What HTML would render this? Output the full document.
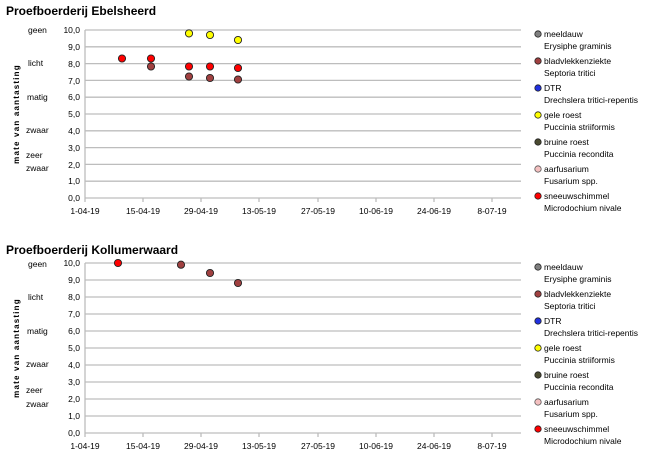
<!DOCTYPE html>
<html><head><style>body{margin:0;background:#fff}svg{display:block}text{font-family:"Liberation Sans",sans-serif}</style></head><body>
<svg width="664" height="464" xmlns="http://www.w3.org/2000/svg">
<defs>
<g id="leg" font-size="8.5" fill="#000">
<circle cx="538" cy="0" r="3.2" fill="#7f7f7f" stroke="#222" stroke-width="0.8"/><text x="544" y="3">meeldauw</text><text x="544" y="15">Erysiphe graminis</text>
<circle cx="538" cy="27" r="3.2" fill="#a04040" stroke="#222" stroke-width="0.8"/><text x="544" y="30">bladvlekkenziekte</text><text x="544" y="42">Septoria tritici</text>
<circle cx="538" cy="54" r="3.2" fill="#2030e0" stroke="#222" stroke-width="0.8"/><text x="544" y="57">DTR</text><text x="544" y="69">Drechslera tritici-repentis</text>
<circle cx="538" cy="81" r="3.2" fill="#ffff00" stroke="#222" stroke-width="0.8"/><text x="544" y="84">gele roest</text><text x="544" y="96">Puccinia striiformis</text>
<circle cx="538" cy="108" r="3.2" fill="#4a4a30" stroke="#222" stroke-width="0.8"/><text x="544" y="111">bruine roest</text><text x="544" y="123">Puccinia recondita</text>
<circle cx="538" cy="135" r="3.2" fill="#f4c0c0" stroke="#555" stroke-width="0.8"/><text x="544" y="138">aarfusarium</text><text x="544" y="150">Fusarium spp.</text>
<circle cx="538" cy="162" r="3.2" fill="#ff0000" stroke="#222" stroke-width="0.8"/><text x="544" y="165">sneeuwschimmel</text><text x="544" y="177">Microdochium nivale</text>
</g>
</defs>
<text x="6" y="15" font-size="12" font-weight="bold">Proefboerderij Ebelsheerd</text>
<text x="6" y="254" font-size="12" font-weight="bold">Proefboerderij Kollumerwaard</text>
<!-- chart 1 -->
<g stroke="#bdbdbd" stroke-width="1.3">
<line x1="85" x2="521" y1="30" y2="30"/><line x1="85" x2="521" y1="46.8" y2="46.8"/><line x1="85" x2="521" y1="63.6" y2="63.6"/><line x1="85" x2="521" y1="80.4" y2="80.4"/><line x1="85" x2="521" y1="97.2" y2="97.2"/><line x1="85" x2="521" y1="114" y2="114"/><line x1="85" x2="521" y1="130.8" y2="130.8"/><line x1="85" x2="521" y1="147.6" y2="147.6"/><line x1="85" x2="521" y1="164.4" y2="164.4"/><line x1="85" x2="521" y1="181.2" y2="181.2"/><line x1="85" x2="521" y1="198" y2="198"/>
<line x1="85" x2="85" y1="30" y2="198"/>
<line x1="85" x2="85" y1="198" y2="202"/><line x1="143" x2="143" y1="198" y2="202"/><line x1="201" x2="201" y1="198" y2="202"/><line x1="259" x2="259" y1="198" y2="202"/><line x1="318" x2="318" y1="198" y2="202"/><line x1="376" x2="376" y1="198" y2="202"/><line x1="434" x2="434" y1="198" y2="202"/><line x1="492" x2="492" y1="198" y2="202"/>
</g>
<g font-size="8.5" text-anchor="end">
<text x="80" y="33">10,0</text><text x="80" y="50">9,0</text><text x="80" y="67">8,0</text><text x="80" y="84">7,0</text><text x="80" y="100">6,0</text><text x="80" y="117">5,0</text><text x="80" y="134">4,0</text><text x="80" y="151">3,0</text><text x="80" y="168">2,0</text><text x="80" y="184">1,0</text><text x="80" y="201">0,0</text>
</g>
<g font-size="8.5" text-anchor="middle">
<text x="85" y="214">1-04-19</text><text x="143" y="214">15-04-19</text><text x="201" y="214">29-04-19</text><text x="259" y="214">13-05-19</text><text x="318" y="214">27-05-19</text><text x="376" y="214">10-06-19</text><text x="434" y="214">24-06-19</text><text x="492" y="214">8-07-19</text>
</g>
<g font-size="8.5">
<text x="28" y="33">geen</text><text x="28" y="66">licht</text><text x="27" y="100">matig</text><text x="26" y="133">zwaar</text><text x="26" y="158">zeer</text><text x="26" y="171">zwaar</text>
</g>
<text transform="translate(19,114) rotate(-90)" font-size="8" font-weight="bold" text-anchor="middle" letter-spacing="1.2">mate van aantasting</text>
<g stroke="#222" stroke-width="0.9">
<circle cx="122" cy="58.5" r="3.6" fill="#ff0000"/>
<circle cx="151" cy="66.5" r="3.6" fill="#a04040"/><circle cx="151" cy="58.5" r="3.6" fill="#ff0000"/>
<circle cx="189" cy="33.4" r="3.6" fill="#ffff00"/><circle cx="189" cy="66.5" r="3.6" fill="#ff0000"/><circle cx="189" cy="76.5" r="3.6" fill="#a04040"/>
<circle cx="210" cy="35" r="3.6" fill="#ffff00"/><circle cx="210" cy="66.5" r="3.6" fill="#ff0000"/><circle cx="210" cy="78" r="3.6" fill="#a04040"/>
<circle cx="238" cy="40" r="3.6" fill="#ffff00"/><circle cx="238" cy="68" r="3.6" fill="#ff0000"/><circle cx="238" cy="79.5" r="3.6" fill="#a04040"/>
</g>
<use href="#leg" transform="translate(0,34)"/>
<!-- chart 2 -->
<g stroke="#bdbdbd" stroke-width="1.3">
<line x1="85" x2="521" y1="263" y2="263"/><line x1="85" x2="521" y1="280" y2="280"/><line x1="85" x2="521" y1="297" y2="297"/><line x1="85" x2="521" y1="314" y2="314"/><line x1="85" x2="521" y1="331" y2="331"/><line x1="85" x2="521" y1="348" y2="348"/><line x1="85" x2="521" y1="365" y2="365"/><line x1="85" x2="521" y1="382" y2="382"/><line x1="85" x2="521" y1="399" y2="399"/><line x1="85" x2="521" y1="416" y2="416"/><line x1="85" x2="521" y1="433" y2="433"/>
<line x1="85" x2="85" y1="263" y2="433"/>
<line x1="85" x2="85" y1="433" y2="437"/><line x1="143" x2="143" y1="433" y2="437"/><line x1="201" x2="201" y1="433" y2="437"/><line x1="259" x2="259" y1="433" y2="437"/><line x1="318" x2="318" y1="433" y2="437"/><line x1="376" x2="376" y1="433" y2="437"/><line x1="434" x2="434" y1="433" y2="437"/><line x1="492" x2="492" y1="433" y2="437"/>
</g>
<g font-size="8.5" text-anchor="end">
<text x="80" y="266">10,0</text><text x="80" y="283">9,0</text><text x="80" y="300">8,0</text><text x="80" y="317">7,0</text><text x="80" y="334">6,0</text><text x="80" y="351">5,0</text><text x="80" y="368">4,0</text><text x="80" y="385">3,0</text><text x="80" y="402">2,0</text><text x="80" y="419">1,0</text><text x="80" y="436">0,0</text>
</g>
<g font-size="8.5" text-anchor="middle">
<text x="85" y="449">1-04-19</text><text x="143" y="449">15-04-19</text><text x="201" y="449">29-04-19</text><text x="259" y="449">13-05-19</text><text x="318" y="449">27-05-19</text><text x="376" y="449">10-06-19</text><text x="434" y="449">24-06-19</text><text x="492" y="449">8-07-19</text>
</g>
<g font-size="8.5">
<text x="28" y="267">geen</text><text x="28" y="300">licht</text><text x="27" y="334">matig</text><text x="26" y="367">zwaar</text><text x="26" y="393">zeer</text><text x="26" y="407">zwaar</text>
</g>
<text transform="translate(19,348) rotate(-90)" font-size="8" font-weight="bold" text-anchor="middle" letter-spacing="1.2">mate van aantasting</text>
<g stroke="#222" stroke-width="0.9">
<circle cx="118" cy="263" r="3.6" fill="#ff0000"/>
<circle cx="181" cy="264.7" r="3.6" fill="#a04040"/>
<circle cx="210" cy="273" r="3.6" fill="#a04040"/>
<circle cx="238" cy="283" r="3.6" fill="#a04040"/>
</g>
<use href="#leg" transform="translate(0,267)"/>
</svg>
</body></html>
